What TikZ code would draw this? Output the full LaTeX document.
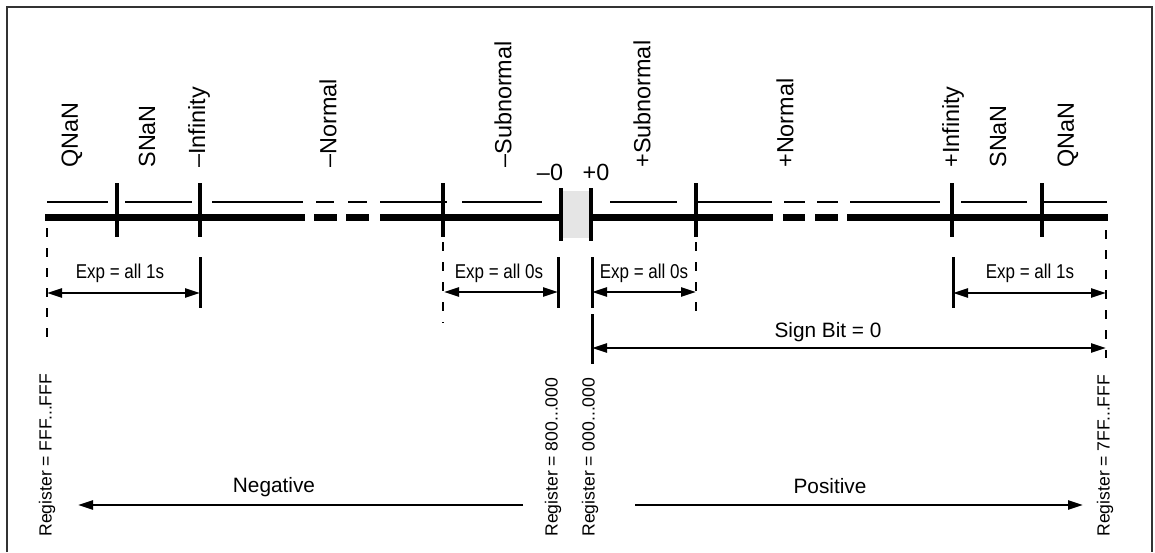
\documentclass[tikz,border=0pt]{standalone}
\usepackage{fontspec}
\setmainfont{Liberation Sans}
\newfontfamily\narrowsans[FakeStretch=0.85]{Liberation Sans}
\usetikzlibrary{arrows.meta}

\begin{document}
\begin{tikzpicture}[x=0.5pt, y=-0.5pt,
  >={Triangle[length=7.5pt,width=4.5pt]},
  axisline/.style={line width=3.5pt},
  rail/.style={line width=1pt},
  tickmark/.style={line width=2.3pt},
  barmark/.style={line width=1.5pt},
  span/.style={<->, line width=1.2pt},
  guide/.style={line width=0.7pt, dash pattern=on 4.5pt off 5.5pt},
  cls/.style={rotate=90, anchor=west, inner sep=0pt, font=\fontsize{11.7}{14}\selectfont},
  reg/.style={rotate=90, anchor=west, inner sep=0pt, font=\fontsize{8.8}{10}\selectfont},
  expl/.style={inner sep=0pt, font=\narrowsans\fontsize{10}{12}\selectfont},
  side/.style={inner sep=0pt, font=\fontsize{10.4}{12}\selectfont}]
  \useasboundingbox (0,0) rectangle (1155,552);
  \draw[line width=1pt, black!80] (7,552) -- (7,6.5) -- (1152,6.5) -- (1152,552);

  % number line
  \fill[black!10] (561,191) rectangle (591,238);
  \foreach \a/\b in {45/305, 314/337, 346/369, 380/560, 591/773, 783/805, 815/838, 847/1108}
    \draw[axisline] (\a,217) -- (\b,217);
  \foreach \a/\b in {47/108, 125/192, 212/303, 316/334, 348/367, 380/447, 462/542,
                     610/677, 696/772, 784/805, 817/838, 850/940, 961/1027, 1043/1107}
    \draw[rail] (\a,202) -- (\b,202);
  \foreach \x in {117, 200, 443, 696, 952, 1042}
    \draw[tickmark] (\x,183) -- (\x,237);
  \draw[tickmark] (561,188) -- (561,241);
  \draw[tickmark] (591,188) -- (591,241);

  % classes
  \node[cls] (qnanL) at (72,168) {QNaN};
  \node[cls] (snanL) at (147,168) {SNaN};
  \node[cls] (infL) at (199,168) {–Infinity};
  \node[cls] (normL) at (328,168) {–Normal};
  \node[cls] (subL) at (503,168) {–Subnormal};
  \node[cls] (subR) at (642,168) {+Subnormal};
  \node[cls] (normR) at (785,168) {+Normal};
  \node[cls] (infR) at (953,168) {+Infinity};
  \node[cls] (snanR) at (998,168) {SNaN};
  \node[cls] (qnanR) at (1068,168) {QNaN};
  \node[inner sep=0pt, font=\fontsize{11.7}{14}\selectfont] (zeroN) at (550,172) {–0};
  \node[inner sep=0pt, font=\fontsize{11.7}{14}\selectfont] (zeroP) at (596,172) {+0};

  % guides and end bars
  \draw[guide] (47,228) -- (47,347);
  \draw[guide] (443,242) -- (443,323);
  \draw[guide] (696,242) -- (696,318);
  \draw[guide] (1106,230) -- (1106,358);
  \foreach \x in {200, 558, 592, 953}
    \draw[barmark] (\x,257) -- (\x,308);
  \draw[barmark] (592,314) -- (592,364);

  \coordinate (eL1) at (47,293);   \coordinate (eL2) at (200,293);
  \coordinate (eL3) at (444,292);  \coordinate (eL4) at (558,292);
  \coordinate (eR1) at (592,292);  \coordinate (eR2) at (696,292);
  \coordinate (eR3) at (953,293);  \coordinate (eR4) at (1106,293);
  \coordinate (sb1) at (592,348);  \coordinate (sb2) at (1106,348);
  \coordinate (ng1) at (523,505);  \coordinate (ng2) at (78,505);
  \coordinate (ps1) at (635,505);  \coordinate (ps2) at (1083,505);

  \draw[span] (eL1) -- (eL2);
  \draw[span] (eL3) -- (eL4);
  \draw[span] (eR1) -- (eR2);
  \draw[span] (eR3) -- (eR4);
  \draw[span] (sb1) -- (sb2);
  \draw[->, line width=1.2pt] (ng1) -- (ng2);
  \draw[->, line width=1.2pt] (ps1) -- (ps2);

  \node[expl] (exp1L) at (120,273) {Exp = all 1s};
  \node[expl] (exp0L) at (499,273) {Exp = all 0s};
  \node[expl] (exp0R) at (644,273) {Exp = all 0s};
  \node[expl] (exp1R) at (1030,273) {Exp = all 1s};
  \node[side] (sign) at (828,332) {Sign Bit = 0};
  \node[side] (neg) at (274,487) {Negative};
  \node[side] (pos) at (830,486) {Positive};

  % register values
  \node[reg] (regA) at (47,537) {Register = FFF...FFF};
  \node[reg] (regB) at (553,537) {Register = 800...000};
  \node[reg] (regC) at (590,537) {Register = 000...000};
  \node[reg] (regD) at (1105,537) {Register = 7FF...FFF};
\end{tikzpicture}
\end{document}
